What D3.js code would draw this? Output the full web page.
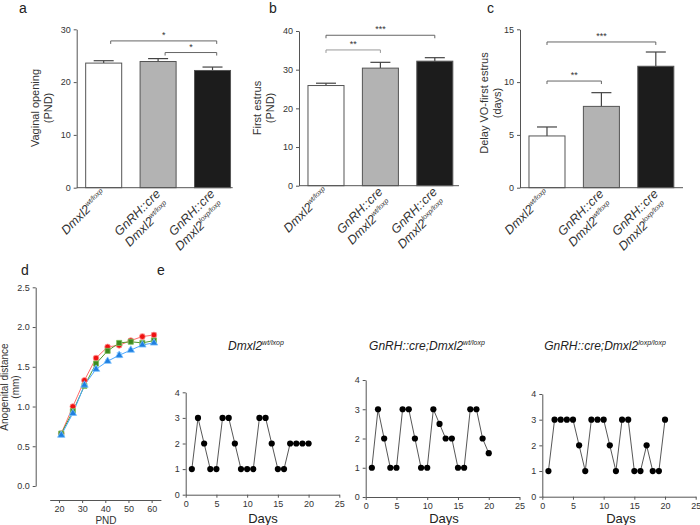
<!DOCTYPE html>
<html><head><meta charset="utf-8">
<script src="https://cdn.jsdelivr.net/npm/d3@7"></script>
<style>
body{margin:0;background:#fff;}
svg{font-family:"Liberation Sans",Arial,sans-serif;}
</style></head>
<body>
<svg id="c" width="700" height="525"></svg>
<script>
// ---------- DATA ----------
const catLine1 = ["", "GnRH::cre", "GnRH::cre"];
const catBase = ["Dmxl2", "Dmxl2", "Dmxl2"];
const catSup = ["wt/loxp", "wt/loxp", "loxp/loxp"];
const barFill = ["#ffffff", "#b3b3b3", "#1c1c1c"];

const vaginalOpening = [23.6, 23.9, 22.2];
const vaginalOpeningErr = [0.45, 0.55, 0.65];
const vaginalTicks = [0, 10, 20, 30];
const vaginalSig = [[0, 2, 27.8, "*"], [1, 2, 25.6, "*"]];

const firstEstrus = [25.9, 30.4, 32.2];
const firstEstrusErr = [0.6, 1.5, 0.9];
const estrusTicks = [0, 10, 20, 30, 40];
const estrusSig = [[0, 1, 35.1, "**"], [0, 2, 38.9, "***"]];

const delayVO = [4.9, 7.7, 11.5];
const delayVOErr = [0.85, 1.3, 1.35];
const delayTicks = [0, 5, 10, 15];
const delaySig = [[0, 1, 10.1, "**"], [0, 2, 13.8, "***"]];

const pnd = [21, 26, 31, 36, 41, 46, 51, 56, 61];
const agdRed = [0.66, 1.00, 1.33, 1.61, 1.75, 1.77, 1.83, 1.88, 1.90];
const agdRedErr = [0.02, 0.02, 0.02, 0.025, 0.02, 0.02, 0.02, 0.03, 0.03];
const agdGreen = [0.66, 0.94, 1.26, 1.54, 1.70, 1.80, 1.815, 1.80, 1.83];
const agdGreenErr = [0.02, 0.02, 0.02, 0.02, 0.02, 0.02, 0.015, 0.015, 0.02];
const agdBlue = [0.64, 0.915, 1.27, 1.47, 1.57, 1.645, 1.71, 1.775, 1.80];
const agdBlueErr = [0.02, 0.02, 0.03, 0.02, 0.015, 0.03, 0.015, 0.015, 0.015];
const agdYTicks = [0, 0.5, 1.0, 1.5, 2.0, 2.5];
const agdXTicks = [20, 30, 40, 50, 60];

const days = [1,2,3,4,5,6,7,8,9,10,11,12,13,14,15,16,17,18,19,20];
const cycleWt = [1,3,2,1,1,3,3,2,1,1,1,3,3,2,1,1,2,2,2,2];
const cycleHet = [1,3,2,1,1,3,3,2,1,1,3,2.5,2,2,1,1,3,3,2,1.5];
const cycleKo = [1,3,3,3,3,2,1,3,3,3,2,1,3,3,1,1,2,1,1,3];
const cycleYTicks = [0,1,2,3,4];
const cycleXTicks = [0,5,10,15,20,25];

// ---------- DRAW ----------
const svg = d3.select("#c");
const AX = "#555", TXT = "#333";

function panelLabel(x, y, t) {
  svg.append("text").attr("x", x).attr("y", y).attr("font-size", 14).attr("fill", "#222").text(t);
}

function styleAxis(g) {
  g.selectAll("path,line").attr("stroke", AX).attr("stroke-width", 1);
  g.selectAll("text").attr("fill", TXT).attr("font-size", 9);
}

function barPanel(o) {
  const x = d3.scaleBand().domain(d3.range(3)).range([o.x0, o.x0 + 162.8])
    .paddingInner(0.338).paddingOuter(0.165);
  const y = d3.scaleLinear().domain([0, o.ymax]).range([o.yb, o.yt]);
  const g = svg.append("g");
  o.vals.forEach((v, i) => {
    const cx = x(i) + x.bandwidth() / 2;
    g.append("line").attr("x1", cx).attr("x2", cx).attr("y1", y(v)).attr("y2", y(v + o.err[i]))
      .attr("stroke", "#444").attr("stroke-width", 1.2);
    g.append("line").attr("x1", cx - 10).attr("x2", cx + 10).attr("y1", y(v + o.err[i])).attr("y2", y(v + o.err[i]))
      .attr("stroke", "#444").attr("stroke-width", 1.2);
  });
  g.selectAll("rect").data(o.vals).join("rect")
    .attr("x", (d, i) => x(i)).attr("width", x.bandwidth())
    .attr("y", d => y(d)).attr("height", d => y(0) - y(d))
    .attr("fill", (d, i) => barFill[i]).attr("stroke", "#555").attr("stroke-width", 1);
  const ya = svg.append("g").attr("transform", `translate(${o.x0},0)`)
    .call(d3.axisLeft(y).tickValues(o.ticks).tickSize(3).tickSizeOuter(0).tickFormat(d3.format("d")));
  styleAxis(ya);
  svg.append("line").attr("x1", o.x0).attr("x2", o.x0 + o.xlen).attr("y1", y(0)).attr("y2", y(0))
    .attr("stroke", AX).attr("stroke-width", 1);
  const t = svg.append("text").attr("transform", `translate(${o.tx},${o.ty}) rotate(-90)`)
    .attr("text-anchor", "middle").attr("font-size", 11).attr("fill", TXT);
  t.append("tspan").attr("x", 0).attr("dy", 0).text(o.title[0]);
  t.append("tspan").attr("x", 0).attr("dy", 12.5).text(o.title[1]);
  o.sig.forEach(s => {
    const x1 = x(s[0]) + x.bandwidth() / 2 + (o.sigShift ? o.sigShift : 0);
    const x2 = x(s[1]) + x.bandwidth() / 2 + (o.sigShift ? o.sigShift * 0.6 : 0);
    const yy = y(s[2]);
    svg.append("path").attr("d", `M${x1},${yy + 3}V${yy}H${x2}V${yy + 3}`)
      .attr("fill", "none").attr("stroke", s[3] === "**" && o.greyDouble ? "#999" : "#666").attr("stroke-width", 1);
    svg.append("text").attr("x", (x1 + x2) / 2).attr("y", yy - 3).attr("text-anchor", "middle")
      .attr("font-size", 9).attr("fill", TXT).text(s[3]);
  });
  d3.range(3).forEach(i => {
    const cx = x(i) + x.bandwidth() / 2;
    const lg = svg.append("g").attr("transform", `translate(${cx + 3},${y(0) + 7}) rotate(-45)`);
    let off = 0;
    if (catLine1[i]) {
      lg.append("text").attr("text-anchor", "end").attr("font-size", 12.5).attr("font-style", "italic")
        .attr("fill", TXT).text(catLine1[i]);
      off = 15;
    }
    const t2 = lg.append("text").attr("text-anchor", "end").attr("x", off ? -2 : 0).attr("y", off)
      .attr("font-size", 12.5).attr("font-style", "italic").attr("fill", TXT);
    t2.append("tspan").text(catBase[i]);
    t2.append("tspan").attr("font-size", 7).attr("dy", -5).text(catSup[i]);
  });
}

panelLabel(19, 13, "a");
barPanel({x0: 76.7, xlen: 156, yb: 187.7, yt: 29.3, ymax: 30, vals: vaginalOpening, err: vaginalOpeningErr,
  ticks: vaginalTicks, sig: vaginalSig, title: ["Vaginal opening", "(PND)"], tx: 39, ty: 108, sigShift: 7});
panelLabel(269, 13, "b");
barPanel({x0: 299, xlen: 160, yb: 185.7, yt: 31, ymax: 40, vals: firstEstrus, err: firstEstrusErr,
  ticks: estrusTicks, sig: estrusSig, title: ["First estrus", "(PND)"], tx: 261, ty: 108, greyDouble: true});
panelLabel(487, 13, "c");
barPanel({x0: 520, xlen: 163, yb: 187.7, yt: 29.3, ymax: 15, vals: delayVO, err: delayVOErr,
  ticks: delayTicks, sig: delaySig, title: ["Delay VO-first estrus", "(days)"], tx: 488, ty: 103});

// ---------- Panel d ----------
panelLabel(21, 275, "d");
(function () {
  const x = d3.scaleLinear().domain([16, 64]).range([49.7, 160.9]);
  const y = d3.scaleLinear().domain([0, 2.5]).range([486, 287.3]);
  const ya = svg.append("g").attr("transform", "translate(35.7,0)")
    .call(d3.axisLeft(y).tickValues(agdYTicks).tickSize(3).tickSizeOuter(0).tickFormat(d3.format(".1f")));
  styleAxis(ya);
  const xa = svg.append("g").attr("transform", "translate(0,500)")
    .call(d3.axisBottom(x).tickValues(agdXTicks).tickSize(3).tickSizeOuter(0));
  styleAxis(xa);
  const yt = svg.append("text").attr("transform", "translate(8,387) rotate(-90)")
    .attr("text-anchor", "middle").attr("font-size", 10).attr("fill", TXT);
  yt.append("tspan").attr("x", 0).attr("dy", 0).text("Anogenital distance");
  yt.append("tspan").attr("x", 0).attr("dy", 11).text("(mm)");
  svg.append("text").attr("x", 106).attr("y", 524).attr("text-anchor", "middle")
    .attr("font-size", 10).attr("fill", TXT).text("PND");

  const series = [
    {v: agdRed, e: agdRedErr, line: "#ff6b6b", mark: "#ee1111", edge: "#ff9a9a", sym: d3.symbolCircle, size: 26},
    {v: agdGreen, e: agdGreenErr, line: "#4f9a2f", mark: "#3d8a1f", edge: "#7fbf5f", sym: d3.symbolSquare, size: 26},
    {v: agdBlue, e: agdBlueErr, line: "#4aa8ff", mark: "#1e7fe0", edge: "#7cc2ff", sym: d3.symbolTriangle, size: 24}
  ];
  series.forEach(s => {
    const line = d3.line().x((d, i) => x(pnd[i])).y(d => y(d));
    svg.append("path").datum(s.v).attr("d", line).attr("fill", "none").attr("stroke", s.line).attr("stroke-width", 1);
    s.v.forEach((v, i) => {
      const cx = x(pnd[i]);
      svg.append("path").attr("d", `M${cx - 2.5},${y(v + s.e[i])}H${cx + 2.5}M${cx},${y(v + s.e[i])}V${y(v - s.e[i])}M${cx - 2.5},${y(v - s.e[i])}H${cx + 2.5}`)
        .attr("stroke", s.edge).attr("stroke-width", 1).attr("fill", "none");
    });
  });
  series.forEach(s => {
    svg.append("g").selectAll("path").data(s.v).join("path")
      .attr("transform", (d, i) => `translate(${x(pnd[i])},${y(d)})`)
      .attr("d", d3.symbol().type(s.sym).size(s.size))
      .attr("fill", s.mark).attr("stroke", s.edge).attr("stroke-width", 0.8);
  });
})();

// ---------- Panel e ----------
panelLabel(157, 275, "e");
function cyclePanel(o) {
  const x = d3.scaleLinear().domain([0, 25]).range(o.xr);
  const y = d3.scaleLinear().domain([0, 4]).range(o.yr);
  const ya = svg.append("g").attr("transform", `translate(${o.xr[0]},0)`)
    .call(d3.axisLeft(y).tickValues(cycleYTicks).tickSize(3).tickSizeOuter(0).tickFormat(d3.format("d")));
  styleAxis(ya);
  const xa = svg.append("g").attr("transform", `translate(0,${o.yr[0]})`)
    .call(d3.axisBottom(x).tickValues(cycleXTicks).tickSize(3).tickSizeOuter(0).tickFormat(d3.format("d")));
  styleAxis(xa);
  const line = d3.line().x((d, i) => x(days[i])).y(d => y(d));
  svg.append("path").datum(o.vals).attr("d", line).attr("fill", "none").attr("stroke", "#444").attr("stroke-width", 0.9);
  svg.append("g").selectAll("circle").data(o.vals).join("circle")
    .attr("cx", (d, i) => x(days[i])).attr("cy", d => y(d)).attr("r", 3.1).attr("fill", "#000");
  svg.append("text").attr("x", o.dx).attr("y", 523).attr("text-anchor", "middle")
    .attr("font-size", 13).attr("fill", "#222").text("Days");
  const t = svg.append("text").attr("x", o.tx).attr("y", 350).attr("text-anchor", "middle")
    .attr("font-size", 12).attr("font-style", "italic").attr("fill", "#222");
  t.append("tspan").text(o.title);
  t.append("tspan").attr("font-size", 7).attr("dy", -5).text(o.sup);
}
cyclePanel({xr: [185.7, 339.3], yr: [494.7, 392.3], vals: cycleWt, dx: 263, tx: 256, title: "Dmxl2", sup: "wt/lxop"});
cyclePanel({xr: [365.7, 519.5], yr: [497, 380], vals: cycleHet, dx: 444, tx: 427, title: "GnRH::cre;Dmxl2", sup: "wt/loxp"});
cyclePanel({xr: [542.3, 695.7], yr: [496.7, 394], vals: cycleKo, dx: 621, tx: 605, title: "GnRH::cre;Dmxl2", sup: "loxp/loxp"});
</script>
</body></html>
